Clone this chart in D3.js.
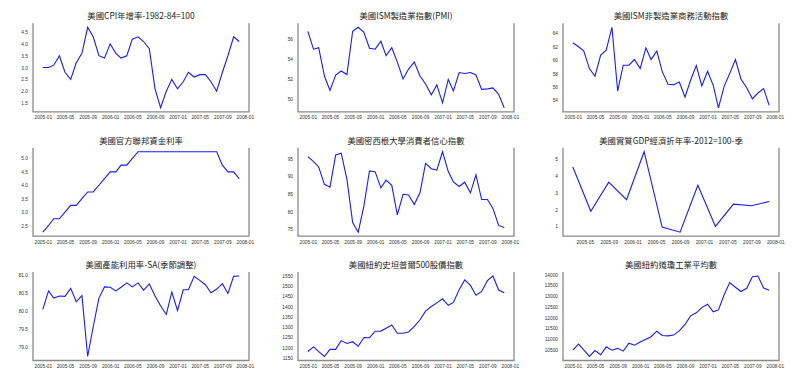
<!DOCTYPE html>
<html><head><meta charset="utf-8">
<script src="https://cdn.jsdelivr.net/npm/d3@7"></script>
<style>
html,body{margin:0;padding:0;background:#fff;}
svg{display:block;}
</style></head>
<body>
<svg id="chart" width="800" height="383"></svg>
<script>
// ---------- data ----------
const months = ["2005-01","2005-02","2005-03","2005-04","2005-05","2005-06","2005-07","2005-08","2005-09","2005-10","2005-11","2005-12",
"2006-01","2006-02","2006-03","2006-04","2006-05","2006-06","2006-07","2006-08","2006-09","2006-10","2006-11","2006-12",
"2007-01","2007-02","2007-03","2007-04","2007-05","2007-06","2007-07","2007-08","2007-09","2007-10","2007-11","2007-12"];
const quarters = ["2005-03","2005-06","2005-09","2005-12","2006-03","2006-06","2006-09","2006-12","2007-03","2007-06","2007-09","2007-12"];

const cpi = [3.0,3.0,3.1,3.5,2.8,2.5,3.2,3.6,4.7,4.3,3.5,3.4, 4.0,3.6,3.4,3.5,4.2,4.3,4.1,3.8,2.1,1.3,2.0,2.5, 2.1,2.4,2.8,2.6,2.7,2.7,2.4,2.0,2.8,3.5,4.3,4.1];
const pmi = [56.8,55.0,55.15,52.3,50.85,52.4,52.8,52.45,56.8,57.2,56.7,55.1, 55.0,55.8,54.35,55.15,53.7,52.0,53.0,53.7,52.3,51.5,50.4,51.4, 49.6,51.95,50.8,52.65,52.55,52.65,52.4,50.95,51.0,51.1,50.45,49.1];
const nmi = [62.6,62.0,61.4,58.75,57.6,60.75,61.5,64.9,55.4,59.25,59.25,60.1, 58.75,61.85,60.1,61.35,58.25,56.4,56.35,56.75,54.5,57.0,59.2,56.15, 58.35,56.25,52.9,56.1,58.0,60.1,57.2,55.9,54.25,55.1,55.75,53.25];
const fedFunds = [2.25,2.5,2.75,2.75,3.0,3.25,3.25,3.5,3.75,3.75,4.0,4.25, 4.5,4.5,4.75,4.75,5.0,5.25,5.25,5.25,5.25,5.25,5.25,5.25, 5.25,5.25,5.25,5.25,5.25,5.25,5.25,5.25,4.75,4.5,4.5,4.25];
const umich = [95.5,94.1,92.6,87.7,86.9,96.0,96.5,89.1,76.9,74.2,81.6,91.5, 91.2,86.7,88.9,87.4,79.1,84.9,84.7,82.0,85.4,93.6,92.1,91.7, 96.9,91.3,88.4,87.1,88.3,85.3,90.4,83.4,83.4,80.9,76.1,75.5];
const gdp = [4.52,1.9,3.62,2.58,5.42,0.96,0.66,3.44,1.0,2.32,2.22,2.48];
const capUtil = [80.04,80.55,80.35,80.41,80.4,80.62,80.25,80.42,78.74,79.56,80.35,80.66, 80.65,80.55,80.65,80.77,80.66,80.77,80.57,80.74,80.41,80.14,79.9,80.52, 80.01,80.58,80.58,80.95,80.84,80.72,80.5,80.6,80.75,80.48,80.95,80.96];
const sp500 = [1181.27,1203.60,1180.59,1156.85,1191.50,1191.33,1234.18,1220.33,1228.81,1207.01,1249.48,1248.29, 1280.08,1280.66,1294.83,1310.61,1270.09,1270.20,1276.66,1303.82,1335.85,1377.94,1400.63,1418.30, 1438.24,1406.82,1420.86,1482.37,1530.62,1503.35,1455.27,1473.99,1526.75,1549.38,1481.14,1468.36];
const dow = [10489.94,10766.23,10503.76,10192.51,10467.48,10274.97,10640.91,10481.60,10568.70,10440.07,10805.87,10717.50, 10864.86,10993.41,11109.32,11367.14,11168.31,11150.22,11185.68,11381.15,11679.07,12080.73,12221.93,12463.15, 12621.69,12268.63,12354.35,13062.91,13627.64,13408.62,13211.99,13357.74,13895.63,13930.01,13371.72,13264.82];

const titles = ["美國CPI年增率-1982-84=100","美國ISM製造業指數(PMI)","美國ISM非製造業商務活動指數",
"美國官方聯邦資金利率","美國密西根大學消費者信心指數","美國實質GDP經濟折年率-2012=100-季",
"美國產能利用率-SA(季節調整)","美國紐約史坦普爾500股價指數","美國紐約道瓊工業平均數"];

const xTickLabels = ["2005-01","2005-05","2005-09","2006-01","2006-05","2006-09","2007-01","2007-05","2007-09","2008-01"];
const yTicks1 = ["1.5","2.0","2.5","3.0","3.5","4.0","4.5"];
const yTicks2 = ["50","52","54","56"];
const yTicks3 = ["54","56","58","60","62","64"];
const yTicks4 = ["2.5","3.0","3.5","4.0","4.5","5.0"];
const yTicks5 = ["75","80","85","90","95"];
const yTicks6 = ["1","2","3","4","5"];
const yTicks7 = ["79.0","79.5","80.0","80.5","81.0"];
const yTicks8 = ["1150","1200","1250","1300","1350","1400","1450","1500","1550"];
const yTicks9 = ["10500","11000","11500","12000","12500","13000","13500","14000"];

const panels = [
  {title: titles[0], dates: months, values: cpi, yTicks: yTicks1},
  {title: titles[1], dates: months, values: pmi, yTicks: yTicks2},
  {title: titles[2], dates: months, values: nmi, yTicks: yTicks3},
  {title: titles[3], dates: months, values: fedFunds, yTicks: yTicks4},
  {title: titles[4], dates: months, values: umich, yTicks: yTicks5},
  {title: titles[5], dates: quarters, values: gdp, yTicks: yTicks6},
  {title: titles[6], dates: months, values: capUtil, yTicks: yTicks7},
  {title: titles[7], dates: months, values: sp500, yTicks: yTicks8},
  {title: titles[8], dates: months, values: dow, yTicks: yTicks9}
];

// ---------- drawing ----------
const parseM = d3.timeParse("%Y-%m");
const svg = d3.select("#chart");
const W = 216, H = 88.5;
const lefts = [33, 298, 563];
const tops = [23.3, 147.7, 272];
const pad = (lo, hi) => { const m = (hi - lo) * 0.05; return [lo - m, hi + m]; };

panels.forEach((p, i) => {
  const r = Math.floor(i / 3), c = i % 3;
  const g = svg.append("g").attr("transform", `translate(${lefts[c]},${tops[r]})`);
  const dates = p.dates.map(parseM);
  const xd = d3.extent(dates);
  const xm = (xd[1] - xd[0]) * 0.05;
  const x = d3.scaleTime().domain([new Date(+xd[0] - xm), new Date(+xd[1] + xm)]).range([0, W]);
  const y = d3.scaleLinear().domain(pad(d3.min(p.values), d3.max(p.values))).range([H, 0]);

  const xt = xTickLabels.map(parseM).filter(d => d >= x.domain()[0] && d <= x.domain()[1]);
  const xAxis = d3.axisBottom(x).tickValues(xt).tickFormat(d3.timeFormat("%Y-%m")).tickSize(0).tickPadding(4);
  const yAxis = d3.axisLeft(y).tickValues(p.yTicks.map(Number))
      .tickFormat((d, k) => p.yTicks[k]).tickSize(0).tickPadding(5);

  const gx = g.append("g").attr("transform", `translate(0,${H})`).call(xAxis);
  const gy = g.append("g").call(yAxis);
  [gx, gy].forEach(a => {
    a.select(".domain").remove();
    a.selectAll("text").attr("font-family", "'Liberation Sans', Arial, sans-serif").attr("font-size", 4.8).attr("fill", "#333");
  });

  // spines: left, bottom, right
  g.append("path").attr("d", `M0,0V${H}H${W}V0`).attr("fill", "none").attr("stroke", "#8a8a8a").attr("stroke-width", 1.3);

  const line = d3.line().x((d, k) => x(dates[k])).y(d => y(d));
  g.append("path").datum(p.values).attr("d", line).attr("fill", "none").attr("stroke", "#1a1aff").attr("stroke-width", 1.1);

  g.append("text").attr("x", W / 2).attr("y", -4).attr("text-anchor", "middle")
    .attr("font-family", "'Noto Sans CJK TC', 'Noto Sans', sans-serif").attr("font-size", 8.4).attr("fill", "#222")
    .text(p.title);
});
</script>
</body></html>
